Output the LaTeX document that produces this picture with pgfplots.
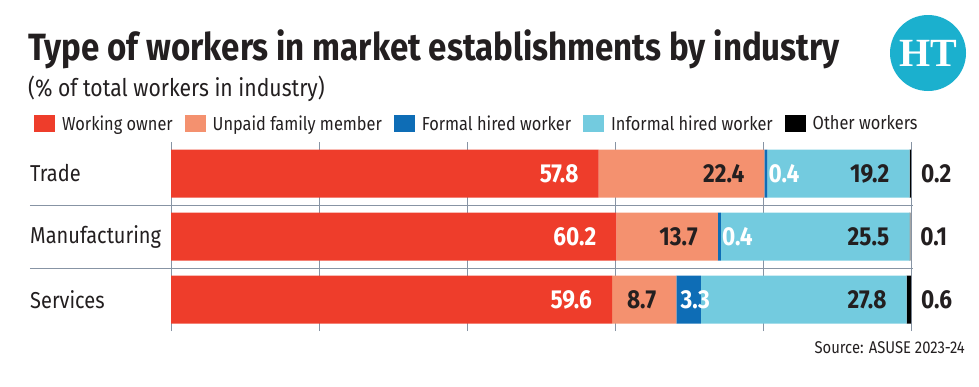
\documentclass[border=0pt]{standalone}
\usepackage{pgfplots}
\usepackage{pgfplotstable}
\pgfplotsset{compat=1.18}
\usepackage{fontspec}
\setmainfont{Fira Sans}[FakeStretch=0.87]
\newfontfamily\htfont{Liberation Serif}
\definecolor{cRed}{HTML}{EE3D2B}
\definecolor{cSalmon}{HTML}{F4916F}
\definecolor{cBlue}{HTML}{0E6DB6}
\definecolor{cCyan}{HTML}{73CBDF}
\definecolor{cGrid}{HTML}{8794A4}
\definecolor{cText}{HTML}{231F20}
\definecolor{cHT}{HTML}{1BB0CE}

\pgfplotstableread{
y wo uf fh ih ot
2 57.8 22.4 0.4 19.2 0.2
1 60.2 13.7 0.4 25.5 0.1
0 59.6 8.7 3.3 27.8 0.6
}\datatable

\begin{document}
\begin{tikzpicture}[x=1pt,y=1pt]
\useasboundingbox (0,0) rectangle (979,-386);
\node[anchor=base west, inner sep=0, text=cText, font=\fontsize{38}{40}\selectfont\bfseries] at (28,-60) {Type of workers in market establishments by industry};
\node[anchor=base west, inner sep=0, text=cText, font=\fontsize{24.3}{26}\selectfont] at (28,-96) {(\% of total workers in industry)};
\fill[cHT] (928,-53) circle (38);
\node[text=white, font=\htfont\fontsize{40}{40}\selectfont\bfseries] at (928,-53) {HT};
\node[anchor=base east, inner sep=0, text=cText, font=\fontsize{17}{18}\selectfont] at (965,-353) {Source: ASUSE 2023-24};

\begin{axis}[
  at={(171pt,-331pt)}, anchor=south west,
  scale only axis, width=740pt, height=189pt,
  xmin=0, xmax=100, ymin=-0.5, ymax=2.5,
  xbar stacked, bar width=48pt,
  axis line style={draw=none},
  tick style={draw=none},
  xtick={0,20,40,60,80,100}, xticklabels={},
  xmajorgrids, grid style={cGrid, line width=0.9pt},
  ytick={0,1,2}, yticklabels={Services,Manufacturing,Trade},
  yticklabel style={anchor=west, xshift=-141pt, inner sep=0pt, text=cText, font=\fontsize{23}{24}\selectfont},
  clip=false,
  /pgf/number format/assume math mode=true,
  nodes near coords={\pgfmathprintnumber[fixed,precision=1,fixed zerofill]{\pgfplotspointmeta}},
  every node near coord/.append style={font=\fontsize{26}{26}\selectfont\bfseries, inner sep=0pt},
  legend columns=5,
  legend cell align=left,
  legend image code/.code={\fill[#1] (0pt,-8.5pt) rectangle (21pt,8.5pt);},
  legend style={at={(axis description cs:-0.1851,1.098)}, anchor=west, draw=none, fill=none, inner sep=0pt, outer sep=0pt,
    font=\fontsize{18.8}{20}\selectfont, text=cText,
    nodes={inner sep=0pt},
    /tikz/every even column/.append style={column sep=12pt},
    /tikz/every odd column/.append style={column sep=7pt}},
]
\addplot[fill=cRed, draw=none, point meta=explicit, visualization depends on={\thisrow{wo} \as \segw},
  every node near coord/.append style={anchor=east, xshift={\segw*3.7pt-20pt}, text=white}] table[x=wo, y=y, meta=wo] {\datatable};
\addlegendentry{Working owner}
\addplot[fill=cSalmon, draw=none, point meta=explicit, visualization depends on={\thisrow{uf} \as \segw},
  every node near coord/.append style={anchor=east, xshift={\segw*3.7pt-20pt}, text=cText}] table[x=uf, y=y, meta=uf] {\datatable};
\addlegendentry{Unpaid family member}
\addplot[fill=cBlue, draw=none, nodes near coords={}] table[x=fh, y=y] {\datatable};
\addlegendentry{Formal hired worker}
\addplot[fill=cCyan, draw=none, point meta=explicit, visualization depends on={\thisrow{ih} \as \segw},
  every node near coord/.append style={anchor=east, xshift={\segw*3.7pt-20pt}, text=cText}] table[x=ih, y=y, meta=ih] {\datatable};
\addlegendentry{Informal hired worker}
\addplot[fill=black, draw=none, point meta=explicit, visualization depends on={\thisrow{ot} \as \segw},
  every node near coord/.append style={anchor=west, xshift={\segw*3.7pt+10pt}, text=cText}] table[x=ot, y=y, meta=ot] {\datatable};
\addlegendentry{Other workers}
% labels of the formal hired worker segments, placed just after their start
\addplot[forget plot, stack plots=false, only marks, mark=none, draw=none, point meta=explicit,
  visualization depends on={\thisrow{wo}+\thisrow{uf} \as \startx},
  every node near coord/.append style={anchor=west, xshift={\startx*3.7pt+4pt}, text=white}]
  table[x expr=\thisrow{wo}+\thisrow{uf}, y=y, meta=fh] {\datatable};
\draw[cGrid, line width=0.9pt] ([xshift=-141pt]axis cs:0,0.5) -- ([xshift=2pt]axis cs:100,0.5);
\draw[cGrid, line width=0.9pt] ([xshift=-141pt]axis cs:0,1.5) -- ([xshift=2pt]axis cs:100,1.5);
\end{axis}
\end{tikzpicture}
\end{document}
